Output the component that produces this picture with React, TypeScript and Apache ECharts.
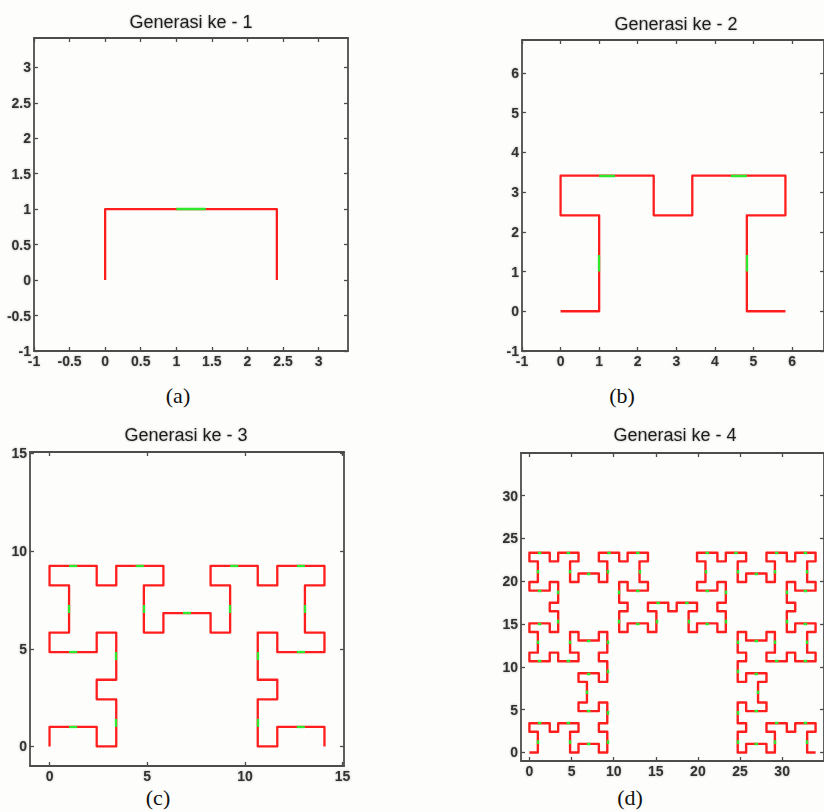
import React, { useEffect, useRef } from "react";
import * as echarts from "echarts";

// ---- Data (vertices of each generation's curve) ----
const GEN1: number[][] = [[0, 0], [0, 1], [2.414, 1], [2.414, 0]];

const GEN2: number[][] = [
  [0, 0], [1, 0], [1, 2.414], [0, 2.414], [0, 3.414], [2.414, 3.414], [2.414, 2.414],
  [3.414, 2.414], [3.414, 3.414], [5.828, 3.414], [5.828, 2.414], [4.828, 2.414], [4.828, 0], [5.828, 0],
];

const GEN3: number[][] = [
  [0, 0], [0, 1], [2.414, 1], [2.414, 0], [3.414, 0], [3.414, 2.414], [2.414, 2.414], [2.414, 3.414],
  [3.414, 3.414], [3.414, 5.828], [2.414, 5.828], [2.414, 4.828], [0, 4.828], [0, 5.828],
  [1, 5.828], [1, 8.243], [0, 8.243], [0, 9.243], [2.414, 9.243], [2.414, 8.243], [3.414, 8.243],
  [3.414, 9.243], [5.828, 9.243], [5.828, 8.243], [4.828, 8.243], [4.828, 5.828], [5.828, 5.828],
  [5.828, 6.828], [8.243, 6.828], [8.243, 5.828],
  [9.243, 5.828], [9.243, 8.243], [8.243, 8.243], [8.243, 9.243], [10.657, 9.243], [10.657, 8.243],
  [11.657, 8.243], [11.657, 9.243], [14.071, 9.243], [14.071, 8.243], [13.071, 8.243], [13.071, 5.828], [14.071, 5.828],
  [14.071, 4.828], [11.657, 4.828], [11.657, 5.828], [10.657, 5.828], [10.657, 3.414], [11.657, 3.414],
  [11.657, 2.414], [10.657, 2.414], [10.657, 0], [11.657, 0], [11.657, 1], [14.071, 1], [14.071, 0],
];

const GEN4_LEFT: number[][] = [
  [0, 0], [1, 0], [1, 2.414], [0, 2.414], [0, 3.414], [2.414, 3.414], [2.414, 2.414], [3.414, 2.414],
  [3.414, 3.414], [5.828, 3.414], [5.828, 2.414], [4.828, 2.414], [4.828, 0], [5.828, 0],
  [5.828, 1], [8.243, 1], [8.243, 0], [9.243, 0], [9.243, 2.414], [8.243, 2.414], [8.243, 3.414],
  [9.243, 3.414], [9.243, 5.828], [8.243, 5.828], [8.243, 4.828], [5.828, 4.828], [5.828, 5.828],
  [6.828, 5.828], [6.828, 8.243], [5.828, 8.243],
  [5.828, 9.243], [8.243, 9.243], [8.243, 8.243], [9.243, 8.243], [9.243, 10.657], [8.243, 10.657],
  [8.243, 11.657], [9.243, 11.657], [9.243, 14.071], [8.243, 14.071], [8.243, 13.071], [5.828, 13.071], [5.828, 14.071],
  [4.828, 14.071], [4.828, 11.657], [5.828, 11.657], [5.828, 10.657], [3.414, 10.657], [3.414, 11.657],
  [2.414, 11.657], [2.414, 10.657], [0, 10.657], [0, 11.657], [1, 11.657], [1, 14.071], [0, 14.071],
];

const GEN4_TOPLEFT: number[][] = [
  [0, 15.071], [2.414, 15.071], [2.414, 14.071], [3.414, 14.071], [3.414, 16.485], [2.414, 16.485],
  [2.414, 17.485], [3.414, 17.485], [3.414, 19.899], [2.414, 19.899], [2.414, 18.899], [0, 18.899], [0, 19.899],
  [1, 19.899], [1, 22.314], [0, 22.314], [0, 23.314], [2.414, 23.314], [2.414, 22.314], [3.414, 22.314],
  [3.414, 23.314], [5.828, 23.314], [5.828, 22.314], [4.828, 22.314], [4.828, 19.899], [5.828, 19.899],
  [5.828, 20.899], [8.243, 20.899], [8.243, 19.899],
  [9.243, 19.899], [9.243, 22.314], [8.243, 22.314], [8.243, 23.314], [10.657, 23.314], [10.657, 22.314],
  [11.657, 22.314], [11.657, 23.314], [14.071, 23.314], [14.071, 22.314], [13.071, 22.314], [13.071, 19.899], [14.071, 19.899],
  [14.071, 18.899], [11.657, 18.899], [11.657, 19.899], [10.657, 19.899], [10.657, 17.485], [11.657, 17.485],
  [11.657, 16.485], [10.657, 16.485], [10.657, 14.071], [11.657, 14.071], [11.657, 15.071], [14.071, 15.071], [14.071, 14.071],
];

const GEN4_MIDDLE: number[][] = [
  [15.071, 14.071], [15.071, 16.485], [14.071, 16.485], [14.071, 17.485], [16.485, 17.485], [16.485, 16.485],
  [17.485, 16.485], [17.485, 17.485], [19.899, 17.485], [19.899, 16.485], [18.899, 16.485], [18.899, 14.071], [19.899, 14.071],
];

const GEN4_TOPRIGHT: number[][] = [
  [19.899, 15.071], [22.314, 15.071], [22.314, 14.071], [23.314, 14.071], [23.314, 16.485], [22.314, 16.485],
  [22.314, 17.485], [23.314, 17.485], [23.314, 19.899], [22.314, 19.899], [22.314, 18.899], [19.899, 18.899], [19.899, 19.899],
  [20.899, 19.899], [20.899, 22.314], [19.899, 22.314], [19.899, 23.314], [22.314, 23.314], [22.314, 22.314], [23.314, 22.314],
  [23.314, 23.314], [25.728, 23.314], [25.728, 22.314], [24.728, 22.314], [24.728, 19.899], [25.728, 19.899],
  [25.728, 20.899], [28.142, 20.899], [28.142, 19.899],
  [29.142, 19.899], [29.142, 22.314], [28.142, 22.314], [28.142, 23.314], [30.556, 23.314], [30.556, 22.314],
  [31.556, 22.314], [31.556, 23.314], [33.971, 23.314], [33.971, 22.314], [32.971, 22.314], [32.971, 19.899], [33.971, 19.899],
  [33.971, 18.899], [31.556, 18.899], [31.556, 19.899], [30.556, 19.899], [30.556, 17.485], [31.556, 17.485],
  [31.556, 16.485], [30.556, 16.485], [30.556, 14.071], [31.556, 14.071], [31.556, 15.071], [33.971, 15.071], [33.971, 14.071],
];

const GEN4_RIGHT: number[][] = [
  [32.971, 14.071], [32.971, 11.657], [33.971, 11.657], [33.971, 10.657], [31.556, 10.657], [31.556, 11.657],
  [30.556, 11.657], [30.556, 10.657], [28.142, 10.657], [28.142, 11.657], [29.142, 11.657], [29.142, 14.071], [28.142, 14.071],
  [28.142, 13.071], [25.728, 13.071], [25.728, 14.071], [24.728, 14.071], [24.728, 11.657], [25.728, 11.657],
  [25.728, 10.657], [24.728, 10.657], [24.728, 8.243], [25.728, 8.243], [25.728, 9.243], [28.142, 9.243], [28.142, 8.243],
  [27.142, 8.243], [27.142, 5.828], [28.142, 5.828],
  [28.142, 4.828], [25.728, 4.828], [25.728, 5.828], [24.728, 5.828], [24.728, 3.414], [25.728, 3.414],
  [25.728, 2.414], [24.728, 2.414], [24.728, 0], [25.728, 0], [25.728, 1], [28.142, 1], [28.142, 0],
  [29.142, 0], [29.142, 2.414], [28.142, 2.414], [28.142, 3.414], [30.556, 3.414], [30.556, 2.414],
  [31.556, 2.414], [31.556, 3.414], [33.971, 3.414], [33.971, 2.414], [32.971, 2.414], [32.971, 0], [33.971, 0],
];

const GEN4: number[][] = [...GEN4_LEFT, ...GEN4_TOPLEFT, ...GEN4_MIDDLE, ...GEN4_TOPRIGHT, ...GEN4_RIGHT];

// Tick values
const TICKS_A = [-1, -0.5, 0, 0.5, 1, 1.5, 2, 2.5, 3];
const TICKS_B = [-1, 0, 1, 2, 3, 4, 5, 6];
const TICKS_C = [0, 5, 10, 15];
const TICKS_D = [0, 5, 10, 15, 20, 25, 30];

const TITLES = ["Generasi ke - 1", "Generasi ke - 2", "Generasi ke - 3", "Generasi ke - 4"];
const CAPTIONS = ["(a)", "(b)", "(c)", "(d)"];

// Green joint on each long side (length 1+√2): from 1 to 1.414 along the side
const LONG_SIDE = 2.414;
const JOINT = [1, 1.414];

function greenSegments(pts: number[][]) {
  const out: number[][][] = [];
  for (let i = 0; i < pts.length - 1; i++) {
    const [x0, y0] = pts[i];
    const [x1, y1] = pts[i + 1];
    const dx = x1 - x0, dy = y1 - y0;
    const len = Math.hypot(dx, dy);
    if (Math.abs(len - LONG_SIDE) < 0.05) {
      const ux = dx / len, uy = dy / len;
      out.push([
        [x0 + ux * JOINT[0], y0 + uy * JOINT[0]],
        [x0 + ux * JOINT[1], y0 + uy * JOINT[1]],
      ]);
    }
  }
  return out;
}

const PANELS = [
  { data: GEN1, min: -1, max: 3.414, ticks: TICKS_A, grid: { left: 34, top: 38, width: 314, height: 313 }, title: [191, 22], cap: [178, 395], lw: 2.3 },
  { data: GEN2, min: -1, max: 6.828, ticks: TICKS_B, grid: { left: 522, top: 40, width: 308, height: 311 }, title: [676, 24], cap: [622, 395], lw: 2.3 },
  { data: GEN3, min: -1, max: 15.071, ticks: TICKS_C, grid: { left: 30, top: 452, width: 314, height: 314 }, title: [186, 435], cap: [158, 797], lw: 2.3 },
  { data: GEN4, min: -1, max: 34.971, ticks: TICKS_D, grid: { left: 521, top: 453, width: 309, height: 308 }, title: [675, 435], cap: [630, 797], lw: 2.4 },
];

const AXIS_COLOR = "#4d4d4d";
const LABEL_STYLE = {
  color: "#333333",
  fontWeight: "bold",
  fontSize: 14,
  fontFamily: "Arial",
  textShadowColor: "rgba(60,60,60,0.4)",
  textShadowBlur: 2,
};

export default function App() {
  const ref = useRef<HTMLDivElement>(null);
  useEffect(() => {
    if (!ref.current) return;
    const chart = echarts.init(ref.current, null, { renderer: "svg" });
    const grid: any[] = [];
    const xAxis: any[] = [];
    const yAxis: any[] = [];
    const series: any[] = [];
    const graphic: any[] = [];
    PANELS.forEach((p, i) => {
      grid.push({ ...p.grid, containLabel: false, show: false });
      const common = (pos: string, labels: boolean) => ({
        type: "value",
        gridIndex: i,
        min: p.min,
        max: p.max,
        position: pos,
        axisLine: { show: true, onZero: false, lineStyle: { color: AXIS_COLOR, width: 1.8 } },
        axisTick: { show: true, inside: true, length: 4, customValues: p.ticks, lineStyle: { color: AXIS_COLOR, width: 1.3 } },
        axisLabel: { show: labels, customValues: p.ticks, margin: 3, ...LABEL_STYLE },
        splitLine: { show: false },
      });
      xAxis.push(common("bottom", true));
      xAxis.push(common("top", false));
      yAxis.push(common("left", true));
      yAxis.push(common("right", false));
      series.push({
        type: "line",
        xAxisIndex: 2 * i,
        yAxisIndex: 2 * i,
        data: p.data,
        symbol: "none",
        showSymbol: false,
        silent: true,
        lineStyle: { color: "#ff1e1e", width: p.lw, join: "round" },
      });
      series.push({
        type: "lines",
        coordinateSystem: "cartesian2d",
        xAxisIndex: 2 * i,
        yAxisIndex: 2 * i,
        silent: true,
        data: greenSegments(p.data).map((c) => ({ coords: c })),
        lineStyle: { color: "#2ee82e", width: p.lw, opacity: 1 },
        z: 5,
      });
      graphic.push({
        type: "text",
        x: p.title[0],
        y: p.title[1],
        style: {
          text: TITLES[i],
          font: '18px "Liberation Sans"',
          fill: "#1e1e1e",
          textAlign: "center",
          textVerticalAlign: "middle",
          textShadowColor: "rgba(0,0,0,0.3)",
          textShadowBlur: 2,
        },
      });
      graphic.push({
        type: "text",
        x: p.cap[0],
        y: p.cap[1],
        style: { text: CAPTIONS[i], font: '22px "Liberation Serif"', fill: "#111", textAlign: "center", textVerticalAlign: "middle" },
      });
    });
    chart.setOption({
      animation: false,
      backgroundColor: "#fdfdfb",
      grid,
      xAxis,
      yAxis,
      series,
      graphic,
    });
    return () => chart.dispose();
  }, []);
  return <div ref={ref} style={{ position: "fixed", left: 0, top: 0, width: 824, height: 812 }} />;
}
